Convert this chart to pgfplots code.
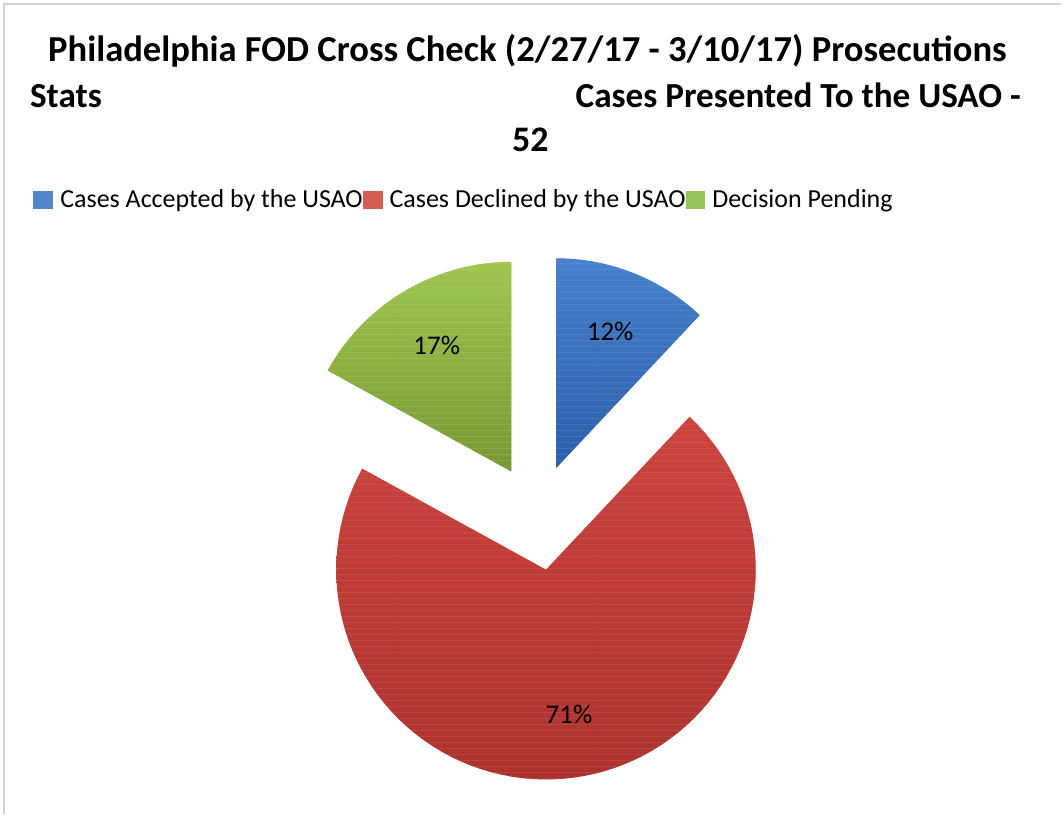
\documentclass[border=0pt]{standalone}
\usepackage{fontspec}
\setmainfont{Carlito}
\usepackage{pgfplots}
\pgfplotsset{compat=1.18}
\usepackage{pgfplotstable}
\usetikzlibrary{patterns}

\definecolor{bluetop}{RGB}{70,128,206}
\definecolor{bluebot}{RGB}{44,94,168}
\definecolor{redtop}{RGB}{204,68,62}
\definecolor{redbot}{RGB}{172,50,46}
\definecolor{greentop}{RGB}{160,198,80}
\definecolor{greenbot}{RGB}{118,152,50}
\definecolor{legblue}{RGB}{84,134,204}
\definecolor{legred}{RGB}{214,92,86}
\definecolor{leggreen}{RGB}{152,196,92}

% percent of 52 cases, explode distance in px
\pgfplotstableread{
share explode col
12 51 blue
71 55 red
17 51 green
}\piedata

\def\Cx{538}\def\Cy{516}\def\R{210}

% one wedge, angles clockwise from 12 o'clock, in pixel coordinates
\newcommand\slice[4]{%
  \pgfmathsetmacro\aA{3.6*#1}%
  \pgfmathsetmacro\aB{3.6*(#1+#2)}%
  \pgfmathsetmacro\aM{3.6*(#1+#2/2)}%
  \pgfmathsetmacro\cx{\Cx+#3*sin(\aM)}%
  \pgfmathsetmacro\cy{\Cy-#3*cos(\aM)}%
  \pgfmathsetmacro\lx{\cx+0.70*\R*sin(\aM)}%
  \pgfmathsetmacro\ly{\cy-0.70*\R*cos(\aM)}%
  \edef\doslice{%
    \noexpand\addplot[draw=none, top color=#4top, bottom color=#4bot,
      postaction={pattern=horizontal lines, pattern color=#4top!70!white, opacity=0.35},
      domain=\aA:\aB, samples=90, forget plot]
      ({\cx+\R*sin(x)},{\cy-\R*cos(x)}) -- (axis cs:\cx,\cy) -- cycle;
    \noexpand\node[font=\noexpand\fontsize{13.5}{16}\noexpand\selectfont]
      at (axis cs:\lx,\ly) {#2\noexpand\%};
  }%
  \doslice
}

\begin{document}
\begin{tikzpicture}
\begin{axis}[
  width=531pt, height=407.5pt, scale only axis,
  xmin=0, xmax=1062, ymin=0, ymax=815, y dir=reverse,
  hide axis, clip=false,
  legend columns=3,
  legend style={at={(axis cs:27,200)}, anchor=west, draw=none, fill=none,
    font=\fontsize{13}{16}\selectfont,
    nodes={inner sep=0pt, anchor=west},
    /tikz/every odd column/.style={column sep=3.5pt},
    /tikz/every even column/.style={column sep=0pt}},
  legend image code/.code={\fill[#1] (0pt,-4.5pt) rectangle (10pt,4.5pt);},
]
\path (axis cs:0,0) rectangle (axis cs:1062,815);
\draw[gray!35, line width=1.2pt] (axis cs:4,815) -- (axis cs:4,4) -- (axis cs:1062,4);

\addlegendimage{fill=legblue, draw=none}
\addlegendentry{Cases Accepted by the USAO}
\addlegendimage{fill=legred, draw=none}
\addlegendentry{Cases Declined by the USAO\ }
\addlegendimage{fill=leggreen, draw=none}
\addlegendentry{Decision Pending}

\pgfmathsetmacro\start{0}
\pgfplotstablegetrowsof{\piedata}
\pgfmathtruncatemacro\last{\pgfplotsretval-1}
\pgfplotsforeachungrouped \i in {0,...,\last}{%
  \pgfplotstablegetelem{\i}{share}\of\piedata \let\v\pgfplotsretval
  \pgfplotstablegetelem{\i}{explode}\of\piedata \let\e\pgfplotsretval
  \pgfplotstablegetelem{\i}{col}\of\piedata \let\c\pgfplotsretval
  \edef\next{\noexpand\slice{\start}{\v}{\e}{\c}}\next
  \pgfmathsetmacro\start{\start+\v}%
}

\node[font=\bfseries\fontsize{18.3}{20}\selectfont, anchor=base]
  at (axis cs:528,62) {Philadelphia FOD Cross Check (2/27/17 - 3/10/17) Prosecutions};
\node[font=\bfseries\fontsize{17.6}{20}\selectfont, anchor=base west]
  at (axis cs:23,108) {Stats};
\node[font=\bfseries\fontsize{17.6}{20}\selectfont, anchor=base east]
  at (axis cs:1029,108) {Cases Presented To the USAO -};
\node[font=\bfseries\fontsize{18}{20}\selectfont, anchor=base]
  at (axis cs:531,152) {52};
\end{axis}
\end{tikzpicture}
\end{document}
